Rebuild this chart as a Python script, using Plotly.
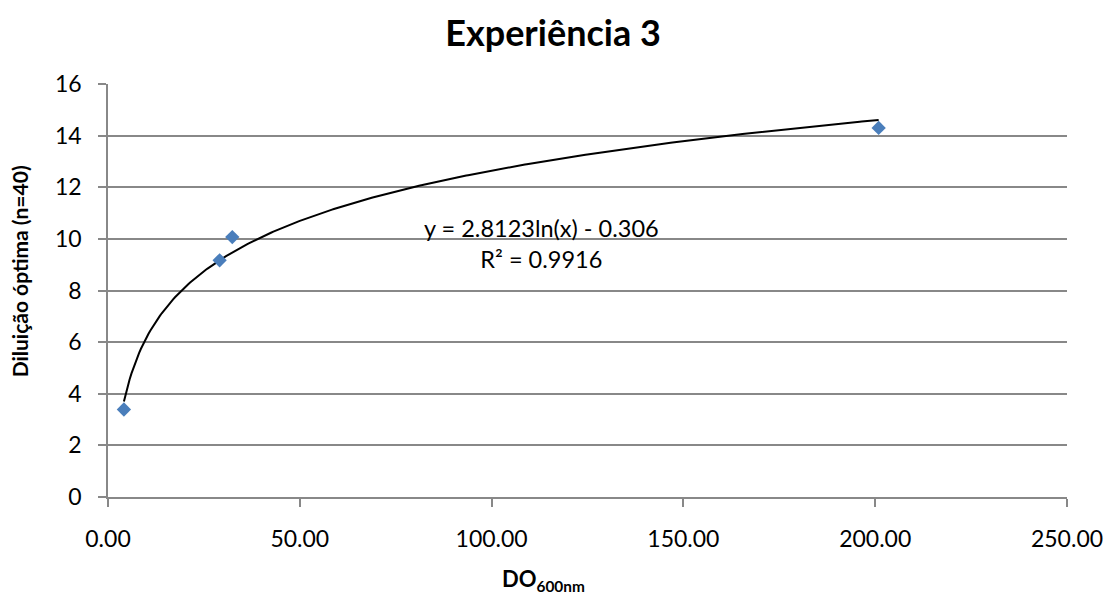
import numpy as np
import plotly.graph_objects as go

# Measured optical density and optimal dilution
do_600nm = [4.15, 29.1, 32.4, 200.9]
diluicao = [3.39, 9.17, 10.07, 14.30]

# Logarithmic trendline coefficients: y = a*ln(x) + b
coef_a = 2.8123
coef_b = -0.306
r2 = 0.9916

x_ticks = [0, 50, 100, 150, 200, 250]
y_ticks = [0, 2, 4, 6, 8, 10, 12, 14, 16]

font_family = "Lato, Open Sans, DejaVu Sans, sans-serif"
grey = "#888888"

W, H = 1115, 605
M = dict(l=108, r=44, t=84, b=108)

xs = np.linspace(min(do_600nm), max(do_600nm), 400)
ys = coef_a * np.log(xs) + coef_b

fig = go.Figure()
fig.add_trace(go.Scatter(
    x=xs, y=ys, mode="lines",
    line=dict(color="black", width=2),
    hoverinfo="skip", showlegend=False,
))
fig.add_trace(go.Scatter(
    x=do_600nm, y=diluicao, mode="markers",
    marker=dict(symbol="diamond", size=11, color="#4A7EBB"),
    showlegend=False,
))

# Trendline equation and R² label
fig.add_annotation(
    x=113, y=11.05, xref="x", yref="y",
    text=f"y = {coef_a}ln(x) - {abs(coef_b)}<br>R² = {r2}",
    showarrow=False, align="center",
    font=dict(size=23.5, color="black", family=font_family),
    xanchor="center", yanchor="top",
)

# Axis titles placed as paper annotations
pw = W - M["l"] - M["r"]
ph = H - M["t"] - M["b"]
fig.add_annotation(
    x=(545 - M["l"]) / pw, y=-(580 - (H - M["b"])) / ph,
    xref="paper", yref="paper",
    text="<b>DO<sub>600nm</sub></b>", showarrow=False,
    font=dict(size=22, color="black", family=font_family),
    xanchor="center", yanchor="middle",
)
fig.add_annotation(
    x=-(M["l"] - 19) / pw, y=(H - M["b"] - 271) / ph,
    xref="paper", yref="paper",
    text="<b>Diluição óptima (n=40)</b>", showarrow=False, textangle=-90,
    font=dict(size=21, color="black", family=font_family),
    xanchor="center", yanchor="middle",
)

fig.update_layout(
    width=W, height=H,
    margin=M,
    paper_bgcolor="white", plot_bgcolor="white",
    title=dict(
        text="<b>Experiência 3</b>",
        x=0.496, xanchor="center", y=0.945, yanchor="middle",
        font=dict(size=36, color="black", family=font_family),
    ),
    font=dict(family=font_family, color="black"),
)

fig.update_xaxes(
    range=[0, 250], tickvals=x_ticks,
    ticktext=[f"{v:.2f}" for v in x_ticks],
    showgrid=False, zeroline=False,
    showline=True, linecolor=grey, linewidth=1.5,
    ticks="outside", ticklen=8, tickcolor=grey, tickwidth=1.5,
    ticklabelstandoff=13,
    tickfont=dict(size=23, color="black", family=font_family),
)
fig.update_yaxes(
    range=[0, 16], tickvals=y_ticks,
    showgrid=True, gridcolor=grey, gridwidth=1.5,
    zeroline=False,
    showline=True, linecolor=grey, linewidth=1.5,
    ticks="outside", ticklen=8, tickcolor=grey, tickwidth=1.5,
    ticklabelstandoff=12,
    tickfont=dict(size=23, color="black", family=font_family),
)

fig.write_html("out.html")
